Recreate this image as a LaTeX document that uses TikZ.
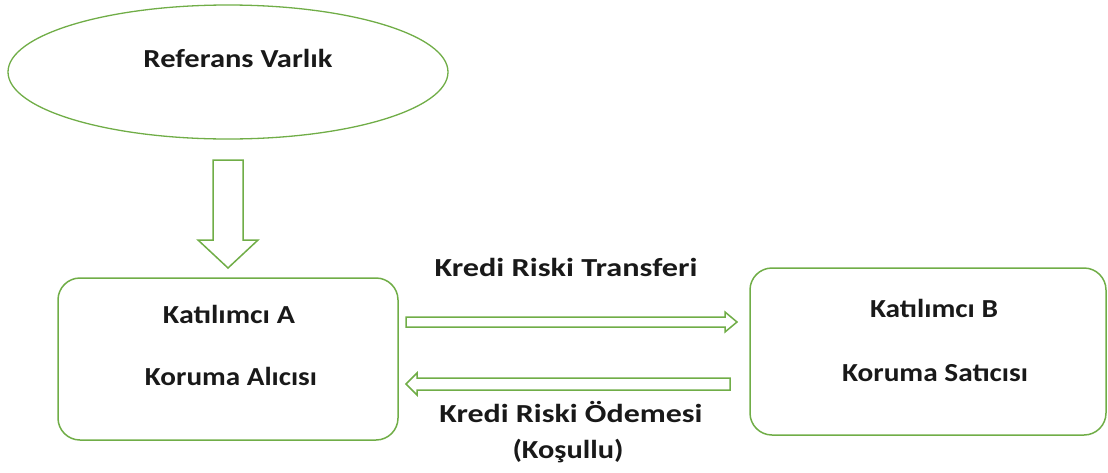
\documentclass[tikz,border=0pt]{standalone}
\usepackage{graphicx}
\usepackage{fontspec}
\setmainfont{Carlito}
\usetikzlibrary{shapes.geometric}
\definecolor{lg}{HTML}{70AD47}
\newcommand{\fitw}[2]{\resizebox{#1pt}{\height}{#2}}
\begin{document}
\begin{tikzpicture}[x=1pt,y=-1pt,
  txt/.style={font=\fontsize{26}{30}\selectfont\bfseries, text=black!90, inner sep=0, anchor=base},
  box/.style={draw=lg, line width=1.5pt, rounded corners=22pt},
  barrow/.style={draw=lg, line width=1.5pt, fill=white}]
\useasboundingbox (0,0) rectangle (1108,472);
% ellipse
\node[ellipse, draw=lg, line width=1.3pt, minimum width=440pt, minimum height=134pt, inner sep=0] (ref) at (228,72) {};
\node[txt] (reft) at (238,67) {\fitw{189}{Referans Varlık}};
% boxes
\draw[box] (58,278) rectangle (398,440);
\coordinate (A) at (228,359);
\draw[box] (750,268) rectangle (1106,435);
\coordinate (B) at (928,351);
\node[txt] (a1) at (229,323) {\fitw{132}{Katılımcı A}};
\node[txt] (a2) at (231,385) {\fitw{172}{Koruma Alıcısı}};
\node[txt] (b1) at (934,317) {\fitw{128}{Katılımcı B}};
\node[txt] (b2) at (935,381) {\fitw{186}{Koruma Satıcısı}};
% down block arrow
\draw[barrow] (213,160) -- (243,160) -- (243,240) -- (258,240) -- (228,268) -- (198,240) -- (213,240) -- cycle;
% right arrow
\draw[barrow] (406,317) -- (725,317) -- (725,312) -- (737,322) -- (725,332) -- (725,327) -- (406,327) -- cycle;
% left arrow
\draw[barrow] (730,378) -- (417,378) -- (417,373) -- (406,384) -- (417,395) -- (417,390) -- (730,390) -- cycle;
\node[txt] (t1) at (566,276) {\fitw{263}{Kredi Riski Transferi}};
\node[txt] (t2) at (571,422) {\fitw{263}{Kredi Riski Ödemesi}};
\node[txt] (t3) at (568,458) {\fitw{111}{(Koşullu)}};
\end{tikzpicture}
\end{document}
